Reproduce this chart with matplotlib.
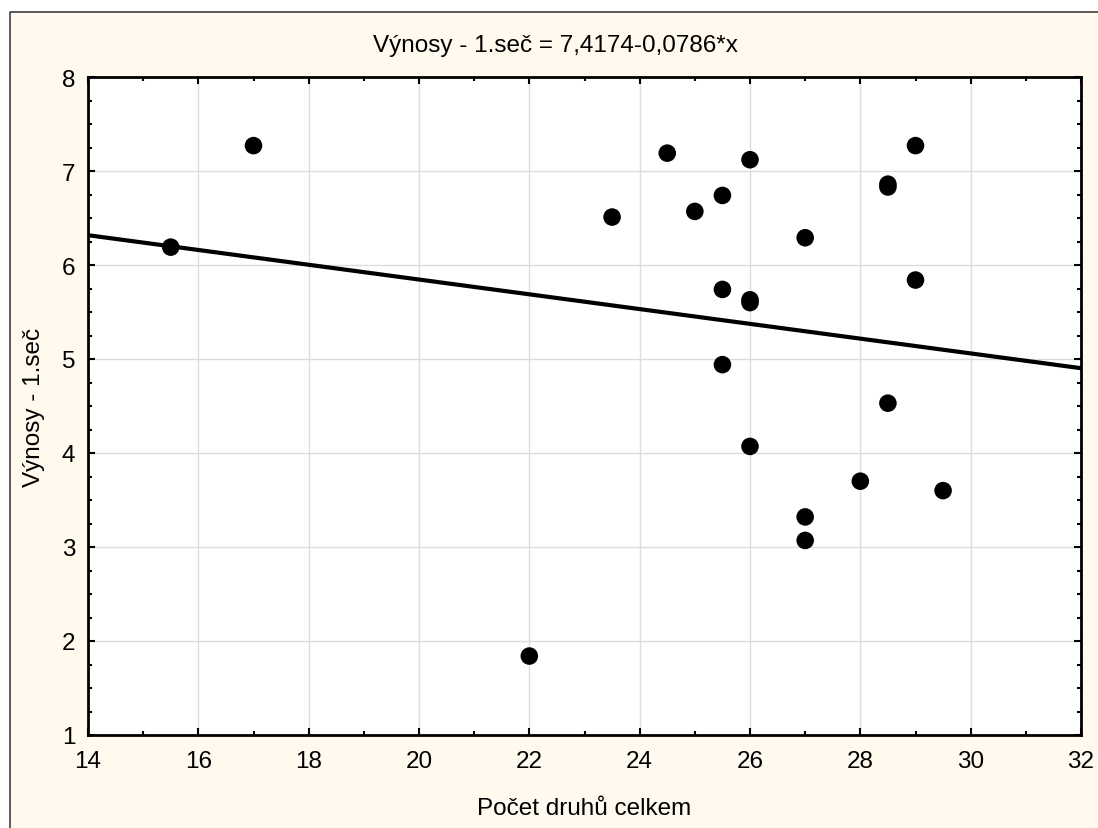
import numpy as np
import matplotlib
matplotlib.use('Agg')
import matplotlib.pyplot as plt
from matplotlib.patches import Rectangle
from matplotlib.lines import Line2D
from matplotlib.ticker import MultipleLocator

# species count vs. first-cut yield
species = [15.5, 17, 22, 23.5, 24.5, 25, 25.5, 25.5, 25.5, 26, 26, 26, 26,
           27, 27, 27, 28, 28.5, 28.5, 28.5, 29, 29, 29.5]
yields = [6.19, 7.27, 1.84, 6.51, 7.19, 6.57, 6.74, 5.74, 4.94, 7.12, 5.63,
          5.60, 4.07, 6.29, 3.32, 3.07, 3.70, 6.86, 6.83, 4.53, 7.27, 5.84,
          3.60]

intercept = 7.4174
slope = -0.0786

x_label = 'Počet druhů celkem'
y_label = 'Výnosy - 1.seč'

plt.rcParams['font.family'] = ['Liberation Sans', 'DejaVu Sans']
FS = 17.5

fig = plt.figure(figsize=(10.98, 8.29), dpi=100, facecolor='white')

# cream panel, framed only on the top and left
x0 = 9.5 / 1098
y1 = 1 - 12.5 / 829
fig.patches.append(Rectangle((x0, 0), 1 - x0, y1, transform=fig.transFigure,
                             facecolor='#fff9ee', edgecolor='none', zorder=-10))
fig.lines.append(Line2D([x0, x0, 1], [0, y1, y1], transform=fig.transFigure,
                        color='#404040', linewidth=1.2, zorder=-9))

ax = fig.add_axes([88 / 1098, 1 - 736 / 829, (1081 - 88) / 1098, (736 - 78) / 829])
ax.set_facecolor('white')

ax.scatter(species, yields, s=160, color='black', edgecolors='none', zorder=3)

xs = np.array([14, 32])
ax.plot(xs, intercept + slope * xs, color='black', linewidth=3, zorder=2)

ax.set_xlim(14, 32)
ax.set_ylim(1, 8)
ax.xaxis.set_major_locator(MultipleLocator(2))
ax.xaxis.set_minor_locator(MultipleLocator(1))
ax.yaxis.set_major_locator(MultipleLocator(1))
ax.yaxis.set_minor_locator(MultipleLocator(0.25))
ax.grid(True, which='major', color='#dcdcdc', linewidth=1, zorder=0)
ax.set_axisbelow(True)

ax.tick_params(which='both', direction='in', top=True, right=True,
               colors='black', labelsize=FS)
ax.tick_params(which='major', length=5, width=1.5)
ax.tick_params(which='minor', length=3, width=1.5)
ax.tick_params(axis='x', which='major', pad=11)
ax.tick_params(axis='y', which='major', pad=9)
for side in ax.spines.values():
    side.set_linewidth(2)
    side.set_color('black')

fmt = lambda v: f'{v:.4f}'.replace('.', ',')
title = f'{y_label} = {fmt(intercept)}-{fmt(-slope)}*x'
fig.text(555 / 1098, 1 - 46 / 829, title, ha='center', va='center', fontsize=FS)
fig.text(584 / 1098, 1 - 809 / 829, x_label, ha='center', va='center', fontsize=FS)
fig.text(34.5 / 1098, 1 - 407 / 829, y_label, ha='center', va='center',
         rotation=90, fontsize=FS)

fig.savefig('out.png', dpi=100, facecolor=fig.get_facecolor())
